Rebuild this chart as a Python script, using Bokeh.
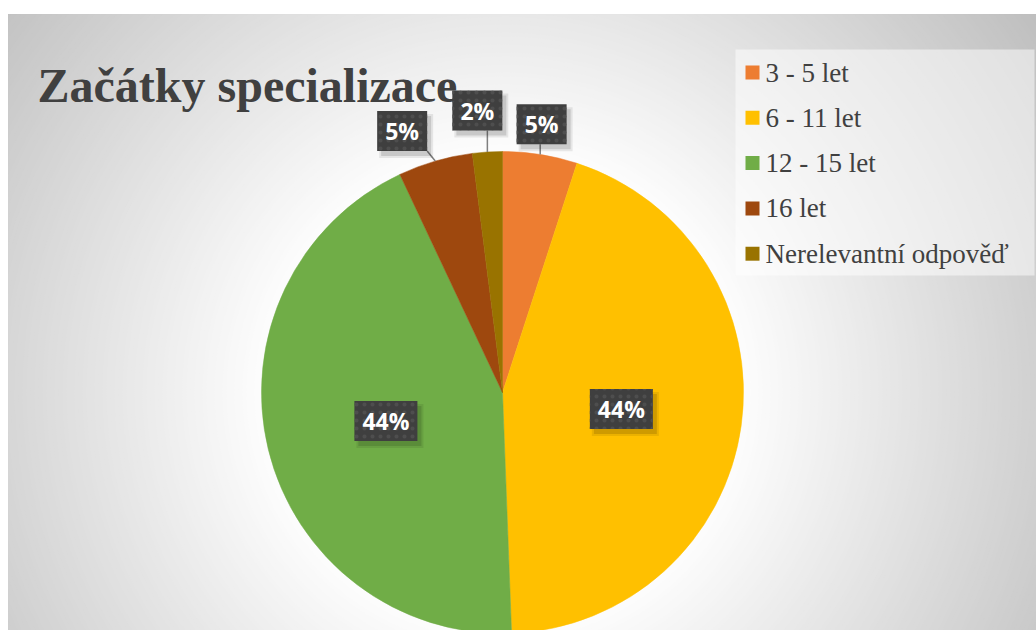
import math
import numpy as np
from bokeh.plotting import figure
from bokeh.models import ColumnDataSource, Range1d
from bokeh.core.properties import value
from bokeh.embed import file_html
from bokeh.resources import INLINE

# ---------------- data ----------------
title = "Začátky specializace"
categories = ["3 - 5 let", "6 - 11 let", "12 - 15 let", "16 let", "Nerelevantní odpověď"]
shares = [5.0, 44.4, 43.6, 5.0, 2.0]
colors = ["#ED7D31", "#FFC000", "#70AD47", "#9E480E", "#997300"]

# ---------------- layout ----------------
W, H = 1028, 616
TOP = 630            # data y = TOP - screen y
CX, CY, R = 502, TOP - 392, 241
label_r = [271, 120, 120, 280, 283]
label_nudge = [-0.7, 0.0, 0.0, -4.8, -1.5]
BOX_H = 40

p = figure(width=W + 8, height=H + 14, output_backend="svg", toolbar_location=None,
           x_range=Range1d(8, 8 + W), y_range=Range1d(0, H),
           min_border_left=8, min_border_right=0, min_border_bottom=0, min_border_top=14)
p.axis.visible = False
p.grid.visible = False
p.background_fill_color = "#ffffff"
p.border_fill_color = "#ffffff"
p.outline_line_color = "#d0d0d0"

# radial background gradient
radii = np.arange(760, 0, -4)
bg = []
for r in radii:
    g = 255 - max(0.0, r - 230) * 0.15
    g = int(max(188, min(255, g)))
    bg.append("#%02x%02x%02x" % (g, g, g))
p.circle(x=CX, y=CY, radius=radii, fill_color=bg, line_color=None)

# pie
total = sum(shares)
fr = [s / total for s in shares]
a0, a1 = [], []
c = 0.0
for f in fr:
    a0.append(c * 360.0)
    c += f
    a1.append(c * 360.0)
mid = [(x + y) / 2 for x, y in zip(a0, a1)]
src = ColumnDataSource(dict(
    start=[math.radians(90 - b) for b in a1],
    end=[math.radians(90 - a) for a in a0],
    color=colors, cat=categories))
p.wedge(x=CX, y=CY, radius=R, start_angle="start", end_angle="end",
        fill_color="color", line_color="color", line_width=0.5, source=src)

# data labels
labels = ["%d%%" % round(s * 100 / total) for s in shares]
lx, ly, bw = [], [], []
seg = dict(x0=[], y0=[], x1=[], y1=[])
for i, s in enumerate(shares):
    ang = math.radians(mid[i] + label_nudge[i])
    x = CX + label_r[i] * math.sin(ang)
    y = CY + label_r[i] * math.cos(ang)
    w = 24 + 13 * len(labels[i])
    lx.append(x); ly.append(y); bw.append(w)
    if label_r[i] > R:
        am = math.radians(mid[i])
        ex = CX + R * math.sin(am)
        ey = CY + R * math.cos(am)
        nx = min(max(ex, x - w / 2), x + w / 2)
        ny = min(max(ey, y - BOX_H / 2), y + BOX_H / 2)
        seg["x0"].append(ex); seg["y0"].append(ey)
        seg["x1"].append(nx); seg["y1"].append(ny)

p.segment(x0="x0", y0="y0", x1="x1", y1="y1", source=ColumnDataSource(seg),
          line_color="#7f7f7f", line_width=1.5)

lsrc = ColumnDataSource(dict(x=lx, y=ly, w=bw, w2=[w + 4 for w in bw], t=labels,
                             sx=[x + 4 for x in lx], sy=[y - 5 for y in ly]))
p.rect(x="sx", y="sy", width="w", height=BOX_H, source=lsrc,
       fill_color="#000000", fill_alpha=0.12, line_color=None)
p.rect(x="sx", y="sy", width="w2", height=BOX_H + 4, source=lsrc,
       fill_color="#000000", fill_alpha=0.08, line_color=None)
p.rect(x="x", y="y", width="w", height=BOX_H, source=lsrc,
       fill_color="#3f3f3f", line_color=None,
       hatch_pattern="dot", hatch_color="#4e4e4e", hatch_scale=8, hatch_weight=2)
p.text(x="x", y="y", text="t", source=lsrc, text_color="#ffffff",
       text_font=value("Open Sans"), text_font_style="bold", text_font_size="23px",
       text_align="center", text_baseline="middle")

# legend (drawn manually)
p.quad(left=735, right=1034, top=TOP - 49, bottom=TOP - 275,
       fill_color="#ffffff", fill_alpha=0.5, line_color=None)
leg_y = [TOP - (72 + 45.3 * i) for i in range(len(categories))]
p.rect(x=752, y=leg_y, width=14, height=14, fill_color=colors, line_color=None)
p.text(x=765, y=leg_y, text=categories, text_color="#404040",
       text_font=value("Liberation Serif"), text_font_size="27px",
       text_align="left", text_baseline="middle")

# title
p.text(x=[37], y=[TOP - 85], text=[title], text_color="#404040",
       text_font=value("Liberation Serif"), text_font_style="bold",
       text_font_size="48px", text_align="left", text_baseline="alphabetic")

open("out.html", "w").write(file_html(p, INLINE))
